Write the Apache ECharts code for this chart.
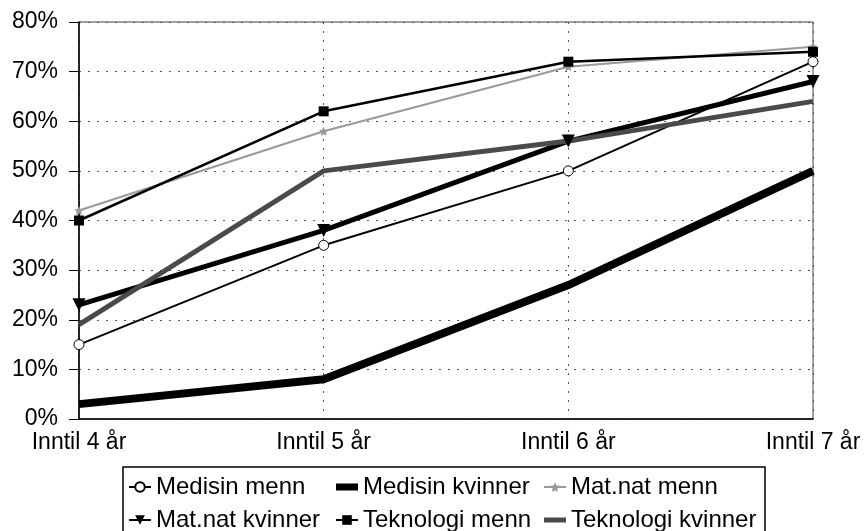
<!DOCTYPE html>
<html>
<head>
<meta charset="utf-8">
<script src="https://cdn.jsdelivr.net/npm/echarts@6/dist/echarts.min.js"></script>
<style>
html,body{margin:0;padding:0;background:#fff;}
#chart{width:866px;height:531px;}
</style>
</head>
<body>
<div id="chart"></div>
<script>
const categories = ['Inntil 4 år', 'Inntil 5 år', 'Inntil 6 år', 'Inntil 7 år'];
const medisinMenn = [15, 35, 50, 72];
const medisinKvinner = [3, 8, 27, 50];
const matnatMenn = [42, 58, 71, 75];
const matnatKvinner = [23, 38, 56, 68];
const teknologiMenn = [40, 62, 72, 74];
const teknologiKvinner = [19, 50, 56, 64];
const yMin = 0, yMax = 80, yStep = 10;

const FONT = 'Liberation Sans';
const starPath = 'path://M0,-10 L2.9,-4 L9.5,-3.1 L4.8,1.5 L5.9,8.1 L0,5 L-5.9,8.1 L-4.8,1.5 L-9.5,-3.1 L-2.9,-4 Z';
const barIcon = 'path://M0,0L0.01,0L0.01,0.01ZM0,2.5L22,2.5L22,9.5L0,9.5ZM0,12L0.01,12L0.01,11.99Z';
const thinBarIcon = 'path://M0,0L0.01,0L0.01,0.01ZM0,3.5L22,3.5L22,8.5L0,8.5ZM0,12L0.01,12L0.01,11.99Z';

const chart = echarts.init(document.getElementById('chart'), null, {renderer: 'canvas'});
const legendText = {fontFamily: FONT, fontSize: 24, color: '#000'};
const legendBase = {orient: 'vertical', top: 475, height: 80, itemGap: 9, itemWidth: 22, itemHeight: 12, textStyle: legendText, padding: 0};
chart.setOption({
  animation: false,
  backgroundColor: '#fff',
  textStyle: {fontFamily: FONT},
  grid: {left: 79, right: 53, top: 22, bottom: 112, show: true, borderColor: '#444', borderWidth: 1},
  xAxis: {
    type: 'category', data: categories, boundaryGap: false,
    axisLine: {lineStyle: {color: '#000', width: 1.5}},
    axisTick: {show: false},
    axisLabel: {fontFamily: FONT, fontSize: 23, color: '#000', margin: 12},
    splitLine: {show: true, lineStyle: {color: '#555', type: [2, 7], width: 1}}
  },
  yAxis: {
    type: 'value', min: yMin, max: yMax, interval: yStep,
    axisLine: {show: true, lineStyle: {color: '#000', width: 1.5}},
    axisTick: {show: true, inside: false, length: 10, lineStyle: {color: '#000'}},
    axisLabel: {fontFamily: FONT, fontSize: 23, color: '#000', margin: 21, formatter: '{value}%'},
    splitLine: {show: true, lineStyle: {color: '#555', type: [2, 7], width: 1}}
  },
  legend: [
    Object.assign({}, legendBase, {left: 128, data: ['Medisin menn', 'Mat.nat kvinner']}),
    Object.assign({}, legendBase, {left: 335, data: [{name: 'Medisin kvinner', icon: barIcon}, 'Teknologi menn']}),
    Object.assign({}, legendBase, {left: 543, data: ['Mat.nat menn', {name: 'Teknologi kvinner', icon: thinBarIcon}]})
  ],
  graphic: [{type: 'rect', shape: {x: 123, y: 467, width: 642, height: 80}, style: {fill: 'none', stroke: '#000', lineWidth: 1.5}, z: 100}],
  series: [
    {name: 'Medisin menn', type: 'line', data: medisinMenn, symbol: 'circle', symbolSize: 10,
     lineStyle: {color: '#000', width: 2}, itemStyle: {color: '#fff', borderColor: '#000', borderWidth: 1}},
    {name: 'Medisin kvinner', type: 'line', data: medisinKvinner, symbol: 'none',
     lineStyle: {color: '#000', width: 8}, itemStyle: {color: '#000'}},
    {name: 'Mat.nat menn', type: 'line', data: matnatMenn, symbol: starPath, symbolSize: 9,
     lineStyle: {color: '#999', width: 2}, itemStyle: {color: '#999'}},
    {name: 'Mat.nat kvinner', type: 'line', data: matnatKvinner, symbol: 'triangle', symbolRotate: 180, symbolSize: 13,
     lineStyle: {color: '#000', width: 5}, itemStyle: {color: '#000'}},
    {name: 'Teknologi menn', type: 'line', data: teknologiMenn, symbol: 'rect', symbolSize: 10,
     lineStyle: {color: '#000', width: 2.5}, itemStyle: {color: '#000'}},
    {name: 'Teknologi kvinner', type: 'line', data: teknologiKvinner, symbol: 'none',
     lineStyle: {color: '#4a4a4a', width: 5}, itemStyle: {color: '#4a4a4a'}}
  ]
});
</script>
</body>
</html>
